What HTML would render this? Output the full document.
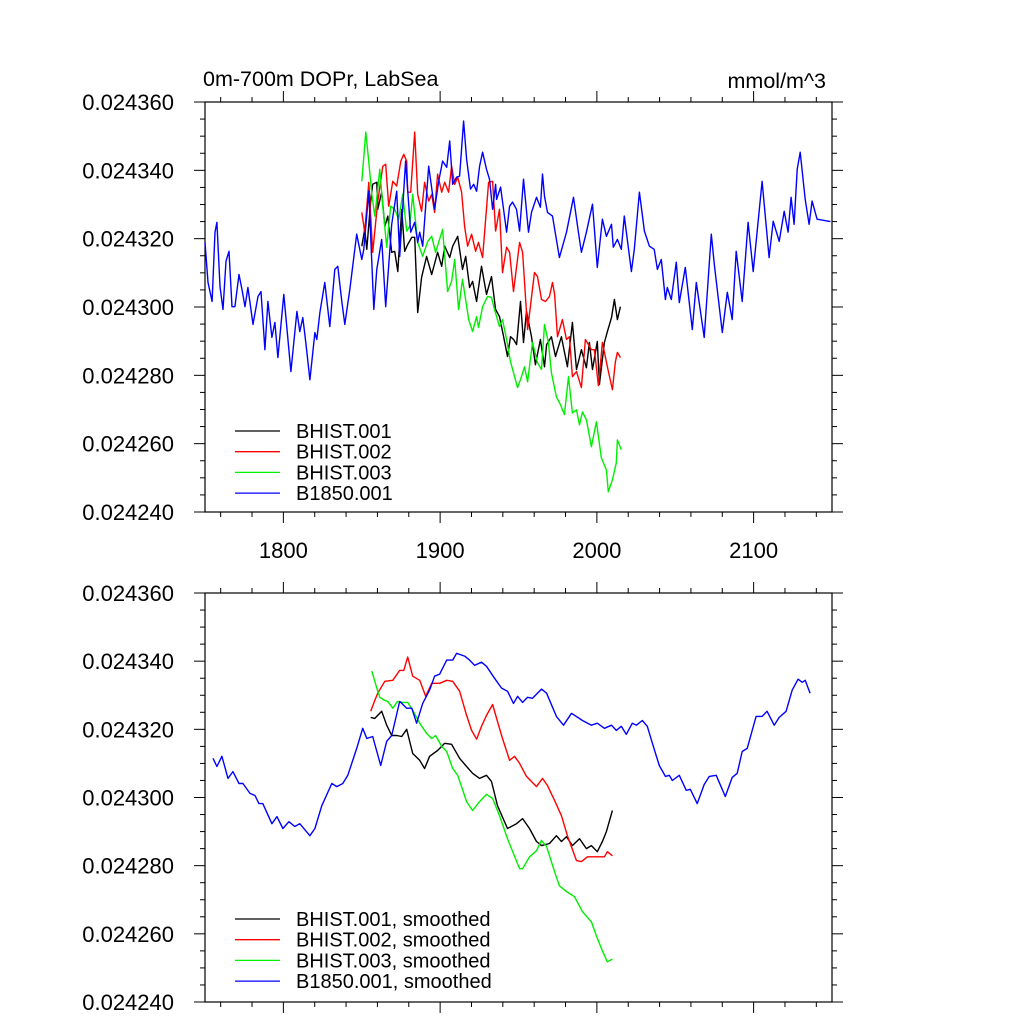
<!DOCTYPE html>
<html><head><meta charset="utf-8"><style>
html,body{margin:0;padding:0;background:#fff;}
svg{display:block;font-family:"Liberation Sans",Arial,sans-serif;}
</style></head><body>
<svg id="chart" width="1024" height="1024" viewBox="0 0 1024 1024">
<text x="203" y="86" font-size="21.5">0m-700m DOPr, LabSea</text>
<text x="826" y="88" font-size="21.5" text-anchor="end">mmol/m^3</text>
</svg>
<script>
// values in units of 1e-6 mmol/m^3
const yTickValues=[24240,24260,24280,24300,24320,24340,24360];
const xTickYears=[1800,1900,2000,2100];
const seriesNames=["BHIST.001","BHIST.002","BHIST.003","B1850.001"];
const seriesColors=["#000000","#ff0000","#00ee00","#0000ff"];

const rawB1850Years=[1750,1751.9,1754.5,1756.4,1757.6,1759.6,1761.5,1763.4,1765.3,1767.2,1769.1,1771.7,1773.6,1775.5,1777.4,1780.6,1783.8,1785.7,1788.2,1790.1,1792.7,1794.6,1796.5,1800.3,1804.8,1808.6,1810.5,1812.4,1814.3,1816.9,1820.1,1821.3,1823.3,1826.4,1829.6,1832.8,1834.7,1837.3,1839.2,1842.4,1846.8,1850,1851.3,1854.5,1857.7,1859.6,1862.7,1865.3,1869.1,1872.3,1874.2,1878,1881.2,1883.8,1885.7,1887,1888.9,1892.7,1896.5,1899.1,1901.6,1904.2,1906.1,1908,1910.5,1912.4,1915,1916.9,1919.4,1921.4,1923.3,1925.2,1927.1,1929.6,1931.5,1933.5,1935.4,1936,1938.6,1942.4,1944.3,1946.2,1948.7,1950.7,1953.2,1956.4,1958.3,1961.5,1964,1965.3,1966.6,1968.5,1971.7,1976.1,1980.6,1985.1,1988.2,1990.1,1993.3,1997.2,2000.3,2003.5,2006.1,2009.3,2010.5,2013.1,2015.6,2017.5,2022,2023.9,2027.1,2030.3,2033.5,2036.6,2038.6,2041.1,2043.7,2044.9,2047.5,2050.7,2052.6,2056.4,2060.9,2063.4,2065.3,2068.5,2073,2074.9,2080,2083.2,2086.3,2088.9,2092.7,2096.5,2099.7,2105.4,2109.9,2112.5,2116.3,2119.5,2122,2123.9,2125.8,2127.8,2129.7,2132.9,2135.4,2137.3,2140.5,2149];
const rawB1850Values=[24318.9,24307.2,24301.6,24321.9,24324.8,24306.0,24299.3,24313.4,24316.3,24300.1,24300.1,24309.5,24305.1,24300.1,24305.7,24294.9,24303.1,24304.5,24287.5,24301.6,24291.1,24295.5,24285.2,24303.7,24281.1,24298.7,24292.8,24296.9,24289.6,24278.7,24292.5,24290.5,24298.4,24307.2,24294.3,24311.0,24311.9,24301.6,24294.9,24305.1,24321.3,24313.9,24316.9,24333.9,24299.3,24311.0,24319.8,24300.1,24324.2,24333.9,24314.8,24342.7,24321.9,24324.8,24318.9,24321.9,24317.8,24341.2,24328.6,24336.8,24342.7,24340.9,24348.6,24335.9,24338.0,24338.3,24354.4,24343.3,24334.5,24335.9,24333.9,24341.2,24345.3,24340.3,24337.4,24328.6,24335.9,24331.5,24335.1,24321.9,24329.5,24330.7,24328.6,24322.2,24337.4,24321.9,24327.7,24332.1,24329.2,24338.9,24332.4,24327.7,24326.6,24314.5,24321.9,24332.1,24321.9,24316.0,24321.9,24330.1,24311.6,24325.7,24320.7,24324.2,24317.5,24319.8,24316.9,24326.6,24310.4,24316.9,24333.6,24322.2,24317.8,24316.9,24311.0,24313.9,24302.2,24305.7,24302.2,24313.1,24301.3,24311.6,24293.4,24307.2,24301.3,24291.1,24321.3,24312.5,24292.5,24304.3,24296.3,24316.3,24301.6,24324.8,24310.4,24336.8,24314.5,24325.1,24319.2,24328.0,24321.9,24332.1,24324.2,24340.3,24345.3,24331.5,24324.2,24331.0,24325.7,24325.0];

const rawH1Years=[1850,1851.9,1853.2,1855.7,1857,1859.6,1860.2,1862.7,1864.7,1866.6,1869.1,1871,1873,1875.5,1877.4,1879.3,1881.9,1883.8,1885.7,1888.2,1891.4,1894.6,1898.4,1901,1902.9,1906.1,1908,1911.2,1914.3,1916.3,1918.8,1920.7,1923.3,1926.4,1929.6,1932.8,1935.4,1937.9,1940.5,1943,1944.9,1946.9,1948.8,1951.3,1953.2,1955.1,1958.3,1960.8,1964,1966.6,1967.9,1971,1973.6,1977.4,1981.2,1984.4,1987,1990.1,1993.3,1995.2,1997.2,2000.3,2001.6,2004.8,2006.7,2009.3,2011.2,2013.1,2015];
const rawH1Values=[24317.8,24322.7,24316.9,24331.0,24335.9,24336.5,24328.6,24333.6,24323.6,24326.6,24316.0,24316.3,24310.4,24328.6,24316.3,24318.3,24320.4,24320.4,24298.4,24308.7,24314.8,24309.5,24316.0,24311.9,24317.8,24314.5,24317.8,24320.7,24311.0,24314.8,24305.7,24307.5,24301.6,24311.9,24303.7,24308.9,24299.3,24297.2,24291.3,24285.5,24291.3,24290.5,24289.0,24301.6,24289.6,24298.7,24291.3,24283.1,24290.5,24282.5,24289.0,24291.3,24285.5,24291.3,24282.5,24295.5,24281.7,24287.5,24282.2,24289.6,24281.7,24289.9,24277.3,24289.6,24292.8,24296.9,24302.2,24296.3,24300.1];

const rawH2Years=[1850,1851.9,1854.5,1857,1860.2,1863.4,1865.3,1867.2,1869.8,1872.3,1874.9,1876.8,1878.7,1879.3,1881.2,1883.8,1885.7,1888.2,1890.1,1892.7,1894.6,1896.5,1898.4,1901,1902.9,1905.4,1907.3,1909.3,1911.2,1913.7,1915.6,1917.5,1920.1,1922.6,1924.5,1927.1,1930.9,1933.5,1935.4,1937.9,1939.8,1942.4,1944.3,1946.8,1950.7,1952.6,1955.8,1960.2,1962.1,1964.7,1967.2,1969.8,1971.7,1973,1974.9,1978,1980.6,1982.5,1984.4,1987,1990.1,1992.7,1996.5,1998.4,2001,2003.5,2006.7,2009.9,2011.8,2013.1,2015];
const rawH2Values=[24327.7,24321.9,24336.5,24316.0,24330.7,24341.2,24341.8,24329.5,24336.8,24335.4,24342.7,24344.7,24342.7,24333.6,24333.6,24351.2,24333.0,24328.0,24336.5,24331.0,24333.0,24327.7,24338.9,24333.6,24336.5,24333.6,24341.2,24335.9,24338.0,24333.6,24323.6,24317.8,24321.3,24316.3,24318.9,24314.5,24336.5,24336.8,24322.2,24328.6,24310.1,24317.5,24316.0,24304.5,24318.9,24316.0,24293.4,24310.1,24308.9,24302.2,24301.6,24303.1,24307.2,24303.7,24291.3,24296.3,24290.5,24291.3,24279.6,24281.1,24276.4,24290.5,24287.5,24287.5,24277.0,24289.6,24282.5,24275.8,24284.0,24286.7,24285.2];

const rawH3Years=[1850,1852.6,1854.5,1856.4,1858.3,1861.5,1863.4,1865.9,1868.5,1871,1873.6,1876.1,1878.7,1880.6,1882.5,1885.7,1888.9,1892.1,1894.6,1897.1,1901.6,1904.8,1907.3,1909.3,1911.8,1914.3,1918.2,1920.7,1923.3,1924.5,1927.1,1930.3,1932.8,1934.7,1937.9,1939.8,1942.4,1944.9,1947.5,1949.4,1951.9,1953.8,1955.8,1958.9,1962.1,1964.7,1966.6,1969.1,1971,1974.2,1976.8,1979.3,1981.9,1984.4,1987,1988.9,1990.8,1993.3,1996.5,1999.7,2002.9,2006.1,2007.3,2009.9,2012.4,2013.1,2015.6];
const rawH3Values=[24336.8,24351.2,24342.4,24333.0,24326.6,24340.3,24329.5,24317.5,24329.5,24328.6,24325.7,24333.0,24322.2,24323.6,24333.0,24318.9,24314.8,24319.2,24320.7,24316.0,24322.7,24304.5,24307.5,24313.9,24299.3,24308.1,24296.3,24292.8,24297.2,24294.0,24300.1,24303.1,24302.8,24299.3,24294.3,24296.3,24290.5,24284.0,24279.6,24276.4,24279.6,24282.5,24278.1,24289.6,24283.7,24281.7,24294.9,24289.6,24280.8,24273.7,24271.4,24268.5,24279.6,24269.0,24269.9,24265.5,24269.3,24267.0,24259.1,24266.4,24255.8,24252.3,24245.9,24249.4,24254.4,24261.1,24258.2];

const smB1850Years=[1755.1,1757.6,1760.8,1764.7,1767.8,1771.7,1774.2,1778.7,1781.9,1784.4,1786.9,1792.7,1795.9,1799.7,1803.5,1807.3,1810.5,1816.9,1820.1,1824.5,1830.9,1834.1,1837.9,1841.1,1846.8,1850.6,1853.2,1857,1862.1,1865.9,1869.1,1874.2,1878.7,1881.9,1885,1888.9,1893.3,1896.5,1899.7,1904.2,1908,1910.5,1915.6,1918.8,1922,1926.4,1929.6,1934.7,1939.2,1943,1946.8,1949.4,1952.6,1955.8,1958.9,1964.7,1967.9,1974.2,1978.7,1983.8,1990.8,1996.5,2000.3,2004.8,2009.3,2012.4,2015.6,2018.8,2022.6,2025.2,2029,2032.2,2035.4,2039.8,2043.7,2046.2,2048.1,2052.6,2057,2059.6,2064,2068.5,2071.7,2076.1,2081.9,2086.3,2089.5,2092.7,2095.9,2101.6,2105.4,2108.6,2113.1,2116.3,2120.7,2124.6,2128.4,2131,2132.9,2136];
const smB1850Values=[24311.5,24309.1,24312.1,24305.6,24307.6,24304.1,24304.1,24301.2,24300.6,24298.2,24298.2,24292.3,24294.4,24290.9,24292.9,24291.5,24292.3,24288.8,24290.9,24297.6,24304.1,24303.2,24304.1,24306.5,24314.4,24320.3,24317.3,24317.9,24309.4,24316.5,24318.2,24328.2,24326.2,24326.2,24321.8,24327.6,24331.5,24335.6,24336.2,24340.3,24340.3,24342.3,24341.5,24340.3,24338.8,24339.7,24338.5,24335.0,24332.1,24331.2,24327.6,24329.7,24327.9,24329.4,24329.1,24331.8,24330.6,24323.8,24321.2,24324.7,24322.6,24321.2,24321.8,24320.3,24321.2,24319.7,24320.9,24318.5,24321.8,24321.2,24322.6,24320.9,24315.9,24309.4,24306.2,24306.5,24305.0,24306.5,24302.1,24302.4,24298.2,24303.8,24306.2,24306.5,24300.3,24305.9,24307.1,24313.5,24314.4,24323.8,24323.8,24325.3,24321.2,24323.5,24325.3,24331.5,24334.7,24333.8,24334.4,24330.6];

const smH1Years=[1855.7,1858.3,1862.7,1865.9,1869.1,1872.3,1875.5,1878.7,1882.5,1887,1890.1,1893.3,1898.4,1902.9,1907.3,1912.4,1916.9,1920.7,1925.2,1929.6,1932.8,1936.6,1943,1948.7,1952.6,1957,1961.5,1964.7,1969.8,1974.2,1977.4,1980.6,1984.4,1988.9,1993.3,1996.5,2000.3,2003.5,2006.1,2009.9];
const smH1Values=[24323.5,24323.2,24325.3,24321.2,24318.2,24318.2,24317.9,24320.0,24312.9,24310.9,24308.5,24312.1,24313.8,24315.9,24315.6,24311.5,24309.1,24307.1,24305.6,24306.5,24304.7,24297.6,24290.9,24292.3,24293.8,24290.9,24287.1,24285.9,24286.5,24288.8,24287.1,24288.5,24285.9,24287.9,24285.0,24285.9,24284.1,24287.1,24290.0,24296.2];

const smH2Years=[1855.7,1858.3,1860.2,1864.7,1869.8,1874.2,1876.8,1879.3,1882.5,1887,1890.8,1894.6,1899.7,1904.2,1908,1912.4,1916.9,1920.1,1923.3,1926.4,1929.6,1933.5,1936.6,1939.8,1944.3,1947.5,1950.7,1955.1,1958.3,1961.5,1965.3,1968.5,1973,1977.4,1981.2,1987,1990.1,1994,1999.7,2004.8,2006.7,2009.9];
const smH2Values=[24325.3,24328.5,24330.6,24334.1,24334.4,24337.3,24337.3,24341.2,24335.6,24334.4,24329.7,24333.5,24333.5,24334.4,24334.1,24331.2,24324.1,24319.7,24317.1,24320.9,24324.1,24327.3,24322.3,24317.3,24310.9,24312.1,24310.0,24306.2,24304.7,24303.2,24305.6,24303.5,24299.1,24294.7,24288.8,24281.5,24281.2,24282.6,24282.6,24282.6,24284.1,24282.9];

const smH3Years=[1856.4,1859.6,1861.5,1864.7,1866.6,1869.8,1872.9,1876.1,1879.3,1882.5,1887,1891.4,1894.6,1897.1,1901,1904.2,1908,1911.2,1916.9,1920.7,1925.2,1929.6,1933.5,1937.9,1943,1950.7,1952.6,1957,1961.5,1964.7,1967.9,1973,1976.1,1980.6,1985.7,1990.8,1996.5,1999.7,2003.5,2006.7,2009.9];
const smH3Values=[24337.1,24332.1,24329.4,24328.5,24328.2,24326.2,24328.2,24327.9,24327.9,24325.6,24321.8,24318.8,24317.3,24318.2,24315.0,24313.5,24308.5,24306.5,24298.8,24296.2,24298.8,24300.9,24299.7,24294.7,24287.9,24279.1,24279.1,24282.6,24284.4,24287.4,24285.6,24278.2,24274.1,24272.4,24270.9,24266.5,24263.5,24259.4,24255.0,24251.8,24252.6];

const NS="http://www.w3.org/2000/svg";
const svg=document.getElementById('chart');
const X0=205,X1=832,YEAR0=1750,YEAR1=2150,V0=24240,V1=24360;
function xs(yr){return X0+(yr-YEAR0)/(YEAR1-YEAR0)*(X1-X0);}
function mk(tag,attrs){const e=document.createElementNS(NS,tag);for(const k in attrs)e.setAttribute(k,attrs[k]);svg.appendChild(e);return e;}

function panel(top,bot,series,labels,legendY,name,showX){
  const ys=v=>bot-(v-V0)/(V1-V0)*(bot-top);
  const box=mk('rect',{x:X0,y:top,width:X1-X0,height:bot-top,fill:'none',stroke:'#000','stroke-width':1.2});
  
  
  for(let v=V0;v<=V1;v+=5){
    const major=(v-V0)%20===0, L=major?11:5, y=ys(v);
    const t1=mk('line',{x1:X0,x2:X0-L,y1:y,y2:y,stroke:'#000','stroke-width':1});
    
    
    const t2=mk('line',{x1:X1,x2:X1+L,y1:y,y2:y,stroke:'#000','stroke-width':1});
    
    
  }
  yTickValues.forEach(v=>{
    const t=mk('text',{x:174,y:ys(v)+8,'font-size':22,'text-anchor':'end'});
    t.textContent=(v/1e6).toFixed(6);
    
    
  });
  for(let yr=1760;yr<=2140;yr+=20){
    const major=yr%100===0, L=major?11:5, x=xs(yr);
    const a=mk('line',{x1:x,x2:x,y1:bot,y2:bot+L,stroke:'#000','stroke-width':1});
    
    
    const b=mk('line',{x1:x,x2:x,y1:top,y2:top-L,stroke:'#000','stroke-width':1});
    
    
  }
  if(showX) xTickYears.forEach(yr=>{
    const t=mk('text',{x:xs(yr),y:bot+46,'font-size':22,'text-anchor':'middle'});
    t.textContent=yr;
    
    
  });
  series.forEach((s,i)=>{
    const d=s[0].map((yr,j)=>(j?'L':'M')+xs(yr).toFixed(1)+' '+ys(s[1][j]).toFixed(1)).join(' ');
    const p=mk('path',{d:d,fill:'none',stroke:seriesColors[i],'stroke-width':1.4,'stroke-linejoin':'round'});
    
    
    const ly=legendY+i*20.7;
    const ll=mk('line',{x1:235,x2:280,y1:ly,y2:ly,stroke:seriesColors[i],'stroke-width':1.3});
    
    
    const lt=mk('text',{x:296,y:ly+7,'font-size':20});
    lt.textContent=labels[i];
    
    
  });
}
panel(102,512,[[rawH1Years,rawH1Values],[rawH2Years,rawH2Values],[rawH3Years,rawH3Values],[rawB1850Years,rawB1850Values]],seriesNames,431,'top-panel',true);
panel(593,1002,[[smH1Years,smH1Values],[smH2Years,smH2Values],[smH3Years,smH3Values],[smB1850Years,smB1850Values]],seriesNames.map(n=>n+', smoothed'),919,'bottom-panel',false);
</script>
</body></html>
